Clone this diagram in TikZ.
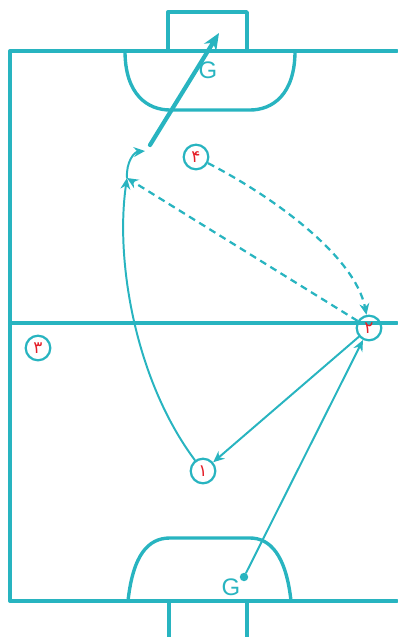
\documentclass[tikz,border=0pt]{standalone}
\usepackage{fontspec}
\newfontfamily\gfont{Liberation Sans}
\newfontfamily\arabicfont[Script=Arabic]{DejaVu Sans}
\TeXXeTstate=1
\usetikzlibrary{arrows.meta}
\definecolor{court}{RGB}{40,180,192}
\definecolor{numred}{RGB}{228,30,40}
\newcommand{\fa}[1]{{\arabicfont\beginR #1\endR}}
\begin{document}
\begin{tikzpicture}[x=0.025cm,y=-0.025cm,line join=round,line cap=round,
		court line/.style={court,line width=2.4pt},
		player/.style={circle,draw=court,line width=1.6pt,minimum size=17.5pt,inner sep=0pt,text=numred,font=\fontsize{12}{12}\selectfont},
		pass/.style={court,line width=1.4pt,-{Stealth[length=8pt,width=7pt]}},
		dashpass/.style={court,line width=1.6pt,dash pattern=on 5pt off 3.5pt,line cap=butt,-{Stealth[length=8pt,width=7pt]}},
		shot/.style={court,line width=3pt,-{Stealth[length=12pt,width=10pt]}},
		glabel/.style={text=court,font=\gfont\fontsize{17}{17}\selectfont,inner sep=0pt}]
	\useasboundingbox (0,0) rectangle (397,637);
	
	\draw[court line] (397,51) -- (10,51) -- (10,601) -- (397,601);
	\draw[court line] (10,323) -- (397,323);
	
	\draw[court line] (168,51) -- (168,12) -- (247,12) -- (247,51);
	\draw[court line] (125,51) .. controls (125,95) and (148,110) .. (170,110) -- (250,110) .. controls (272,110) and (295,95) .. (295,51);
	
	\draw[court line] (169,601) -- (169,637);
	\draw[court line] (247,601) -- (247,637);
	\draw[court line] (128,601) .. controls (133,555) and (148,538) .. (170,538) -- (250,538) .. controls (270,538) and (286,555) .. (291,601);
	
	\node[glabel] (gtop) at (208,70) {G};
	\node[glabel] (gbot) at (231,587) {G};
	\node[circle,fill=court,inner sep=0pt,minimum size=6pt] (ball) at (244,577) {};
	
	\node[player] (p1) at (203,471) {\fa{۱}};
	\node[player] (p2) at (369,328) {\fa{۲}};
	\node[player] (p3) at (38,348) {\fa{۳}};
	\node[player] (p4) at (196,157) {\fa{۴}};
	
	\coordinate (r1) at (127,178);
	\coordinate (k1) at (145,151);
	\coordinate (k2) at (150,145);
	\coordinate (goal) at (219,33);
	
	\draw[pass] (ball) -- (p2);
	\draw[pass] (p2) -- (p1);
	\draw[pass] (p1) .. controls (135,380) and (115,260) .. (r1);
	\draw[pass] (r1) .. controls (126,162) and (134,152) .. (k1);
	\draw[shot] (k2) -- (goal);
	
	\draw[dashpass] (p2) -- (r1);
	\draw[dashpass] (p4) .. controls (270,195) and (355,255) .. (p2);
\end{tikzpicture}
\end{document}
